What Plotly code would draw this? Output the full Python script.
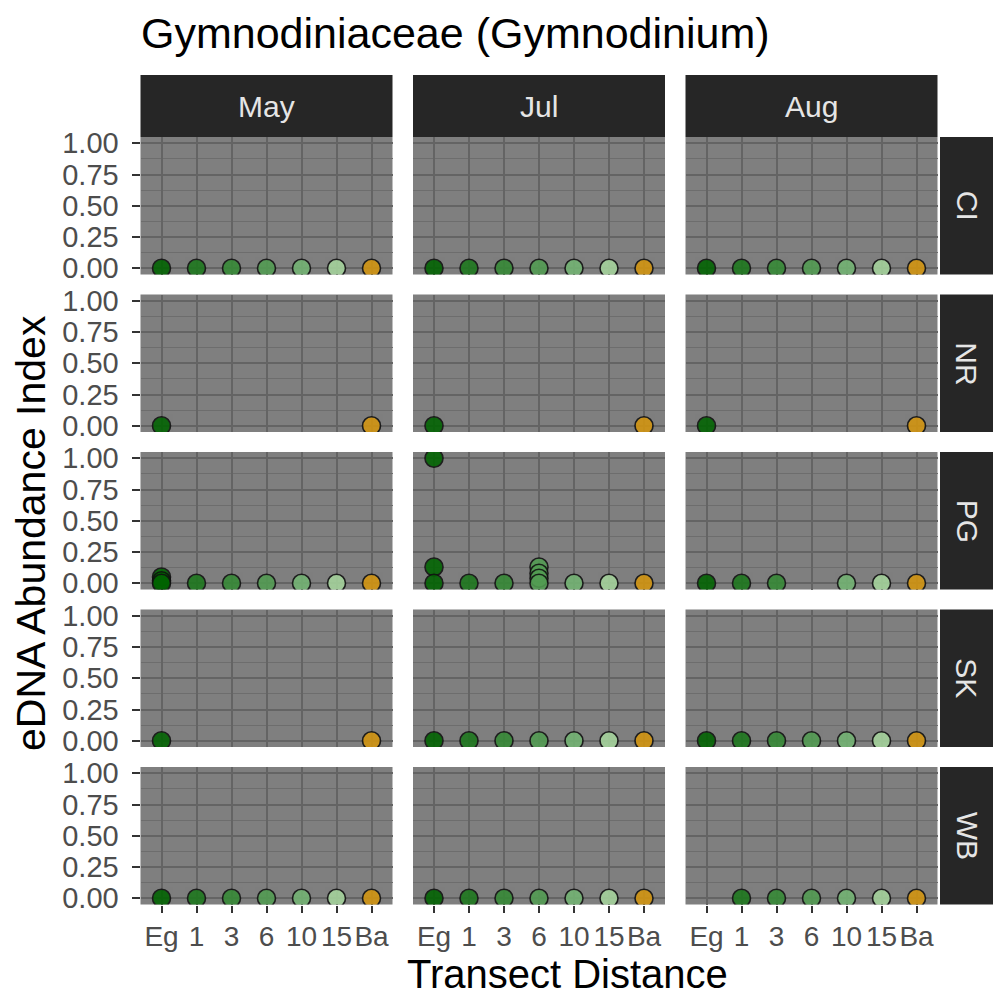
import plotly.graph_objects as go

# ---------------- data ----------------
distances = ["Eg", "1", "3", "6", "10", "15", "Ba"]
months = ["May", "Jul", "Aug"]
sites = ["CI", "NR", "PG", "SK", "WB"]
dist_colors = ["#006400", "#1d781d", "#368a36", "#529c52", "#74b474", "#a5d49c", "#d4960f"]
y_ticks = [0.0, 0.25, 0.5, 0.75, 1.0]
y_ticklabels = ["0.00", "0.25", "0.50", "0.75", "1.00"]

ci_may_x = ["Eg", "1", "3", "6", "10", "15", "Ba"]
ci_may_y = [0, 0, 0, 0, 0, 0, 0]
ci_jul_x = ["Eg", "1", "3", "6", "10", "15", "Ba"]
ci_jul_y = [0, 0, 0, 0, 0, 0, 0]
ci_aug_x = ["Eg", "1", "3", "6", "10", "15", "Ba"]
ci_aug_y = [0, 0, 0, 0, 0, 0, 0]

nr_may_x = ["Eg", "Ba"]
nr_may_y = [0, 0]
nr_jul_x = ["Eg", "Ba"]
nr_jul_y = [0, 0]
nr_aug_x = ["Eg", "Ba"]
nr_aug_y = [0, 0]

pg_may_x = ["Eg", "Eg", "Eg", "1", "3", "6", "10", "15", "Ba"]
pg_may_y = [0.05, 0.02, 0, 0, 0, 0, 0, 0, 0]
pg_jul_x = ["Eg", "Eg", "Eg", "1", "3", "6", "6", "6", "6", "10", "15", "Ba"]
pg_jul_y = [1.0, 0.13, 0, 0, 0, 0.13, 0.08, 0.04, 0, 0, 0, 0]
pg_aug_x = ["Eg", "1", "3", "10", "15", "Ba"]
pg_aug_y = [0, 0, 0, 0, 0, 0]

sk_may_x = ["Eg", "Ba"]
sk_may_y = [0, 0]
sk_jul_x = ["Eg", "1", "3", "6", "10", "15", "Ba"]
sk_jul_y = [0, 0, 0, 0, 0, 0, 0]
sk_aug_x = ["Eg", "1", "3", "6", "10", "15", "Ba"]
sk_aug_y = [0, 0, 0, 0, 0, 0, 0]

wb_may_x = ["Eg", "1", "3", "6", "10", "15", "Ba"]
wb_may_y = [0, 0, 0, 0, 0, 0, 0]
wb_jul_x = ["Eg", "1", "3", "6", "10", "15", "Ba"]
wb_jul_y = [0, 0, 0, 0, 0, 0, 0]
wb_aug_x = ["1", "3", "6", "10", "15", "Ba"]
wb_aug_y = [0, 0, 0, 0, 0, 0]

panels = {
    ("CI", "May"): (ci_may_x, ci_may_y), ("CI", "Jul"): (ci_jul_x, ci_jul_y), ("CI", "Aug"): (ci_aug_x, ci_aug_y),
    ("NR", "May"): (nr_may_x, nr_may_y), ("NR", "Jul"): (nr_jul_x, nr_jul_y), ("NR", "Aug"): (nr_aug_x, nr_aug_y),
    ("PG", "May"): (pg_may_x, pg_may_y), ("PG", "Jul"): (pg_jul_x, pg_jul_y), ("PG", "Aug"): (pg_aug_x, pg_aug_y),
    ("SK", "May"): (sk_may_x, sk_may_y), ("SK", "Jul"): (sk_jul_x, sk_jul_y), ("SK", "Aug"): (sk_aug_x, sk_aug_y),
    ("WB", "May"): (wb_may_x, wb_may_y), ("WB", "Jul"): (wb_jul_x, wb_jul_y), ("WB", "Aug"): (wb_aug_x, wb_aug_y),
}

# ---------------- layout geometry (pixels) ----------------
W, H = 993, 997
FONT = "Liberation Sans, Arial, Helvetica, sans-serif"
col_px = [(140.5, 392.5), (413.0, 665.0), (685.5, 937.5)]
row_top0, row_h, row_gap = 137.0, 137.5, 20.0
row_px = [(row_top0 + i * (row_h + row_gap), row_top0 + i * (row_h + row_gap) + row_h) for i in range(5)]
strip_top = (75.0, 137.0)
strip_right = (940.0, 993.0)


def px(x):
    return x / W


def py(y):
    return 1 - y / H


fig = go.Figure()
layout = {}
shapes = []
annotations = []

k = 0
for ri, site in enumerate(sites):
    for ci, month in enumerate(months):
        k += 1
        xs, ys = panels[(site, month)]
        xa = "x" if k == 1 else f"x{k}"
        ya = "y" if k == 1 else f"y{k}"
        fig.add_trace(go.Scatter(
            x=xs, y=ys, mode="markers", xaxis=xa, yaxis=ya, showlegend=False,
            marker=dict(size=18, color=[dist_colors[distances.index(d)] for d in xs],
                        opacity=0.88, line=dict(color="#111111", width=1.6)),
            hoverinfo="x+y",
        ))
        bottom = ri == len(sites) - 1
        left = ci == 0
        x0, x1 = col_px[ci]
        y0, y1 = row_px[ri]
        layout["xaxis" if k == 1 else f"xaxis{k}"] = dict(
            domain=[px(x0), px(x1)], anchor=ya, type="category", automargin=False,
            categoryorder="array", categoryarray=distances, range=[-0.6, 6.6],
            showgrid=True, gridcolor="#646464", gridwidth=1.6, zeroline=False,
            showline=False, showticklabels=bottom, ticks="outside" if bottom else "",
            ticklen=7, tickwidth=1.5, tickcolor="#333333", tickangle=0,
            tickfont=dict(family=FONT, size=28, color="#4d4d4d"),
            fixedrange=True,
        )
        layout["yaxis" if k == 1 else f"yaxis{k}"] = dict(
            domain=[py(y1), py(y0)], anchor=xa, range=[-0.05, 1.05], automargin=False,
            tickmode="array", tickvals=y_ticks, ticktext=y_ticklabels,
            showgrid=True, gridcolor="#646464", gridwidth=1.6, zeroline=False,
            minor=dict(tickvals=[0.125, 0.375, 0.625, 0.875], showgrid=True,
                       gridcolor="#6d6d6d", gridwidth=1.0, ticks=""),
            showline=False, showticklabels=left, ticks="outside" if left else "",
            ticklen=8, tickwidth=1.5, tickcolor="#333333", ticklabelstandoff=7,
            tickfont=dict(family=FONT, size=29, color="#4d4d4d"),
            fixedrange=True,
        )

# top strips
for ci, month in enumerate(months):
    x0, x1 = col_px[ci]
    shapes.append(dict(type="rect", xref="paper", yref="paper", x0=px(x0), x1=px(x1),
                       y0=py(strip_top[1]), y1=py(strip_top[0]), fillcolor="#262626",
                       line=dict(width=0), layer="below"))
    annotations.append(dict(text=month, xref="paper", yref="paper", x=px((x0 + x1) / 2),
                            y=py((strip_top[0] + strip_top[1]) / 2), showarrow=False,
                            xanchor="center", yanchor="middle",
                            font=dict(family=FONT, size=30, color="#e5e5e5")))
# right strips
for ri, site in enumerate(sites):
    y0, y1 = row_px[ri]
    shapes.append(dict(type="rect", xref="paper", yref="paper", x0=px(strip_right[0]), x1=px(strip_right[1]),
                       y0=py(y1), y1=py(y0), fillcolor="#262626", line=dict(width=0), layer="below"))
    annotations.append(dict(text=site, xref="paper", yref="paper", x=px(967),
                            y=py((y0 + y1) / 2), showarrow=False, textangle=90,
                            xanchor="center", yanchor="middle",
                            font=dict(family=FONT, size=30, color="#e5e5e5")))

# titles
annotations.append(dict(text="Gymnodiniaceae (Gymnodinium)", xref="paper", yref="paper",
                        x=px(139), y=py(33), xanchor="left", yanchor="middle", showarrow=False,
                        font=dict(family=FONT, size=43, color="#000000")))
annotations.append(dict(text="Transect Distance", xref="paper", yref="paper",
                        x=px(567), y=py(997), xanchor="center",
                        yanchor="bottom", showarrow=False, borderpad=0,
                        font=dict(family=FONT, size=40, color="#000000")))
annotations.append(dict(text="eDNA Abundance Index", xref="paper", yref="paper",
                        x=px(31), y=py(533), xanchor="center",
                        yanchor="middle", showarrow=False, textangle=-90,
                        font=dict(family=FONT, size=41, color="#000000")))

fig.update_layout(
    width=W, height=H, margin=dict(l=0, r=0, t=0, b=0, pad=0, autoexpand=False),
    paper_bgcolor="#ffffff", plot_bgcolor="#7f7f7f", showlegend=False,
    shapes=shapes, annotations=annotations, **layout,
)
fig.write_html("out.html")
